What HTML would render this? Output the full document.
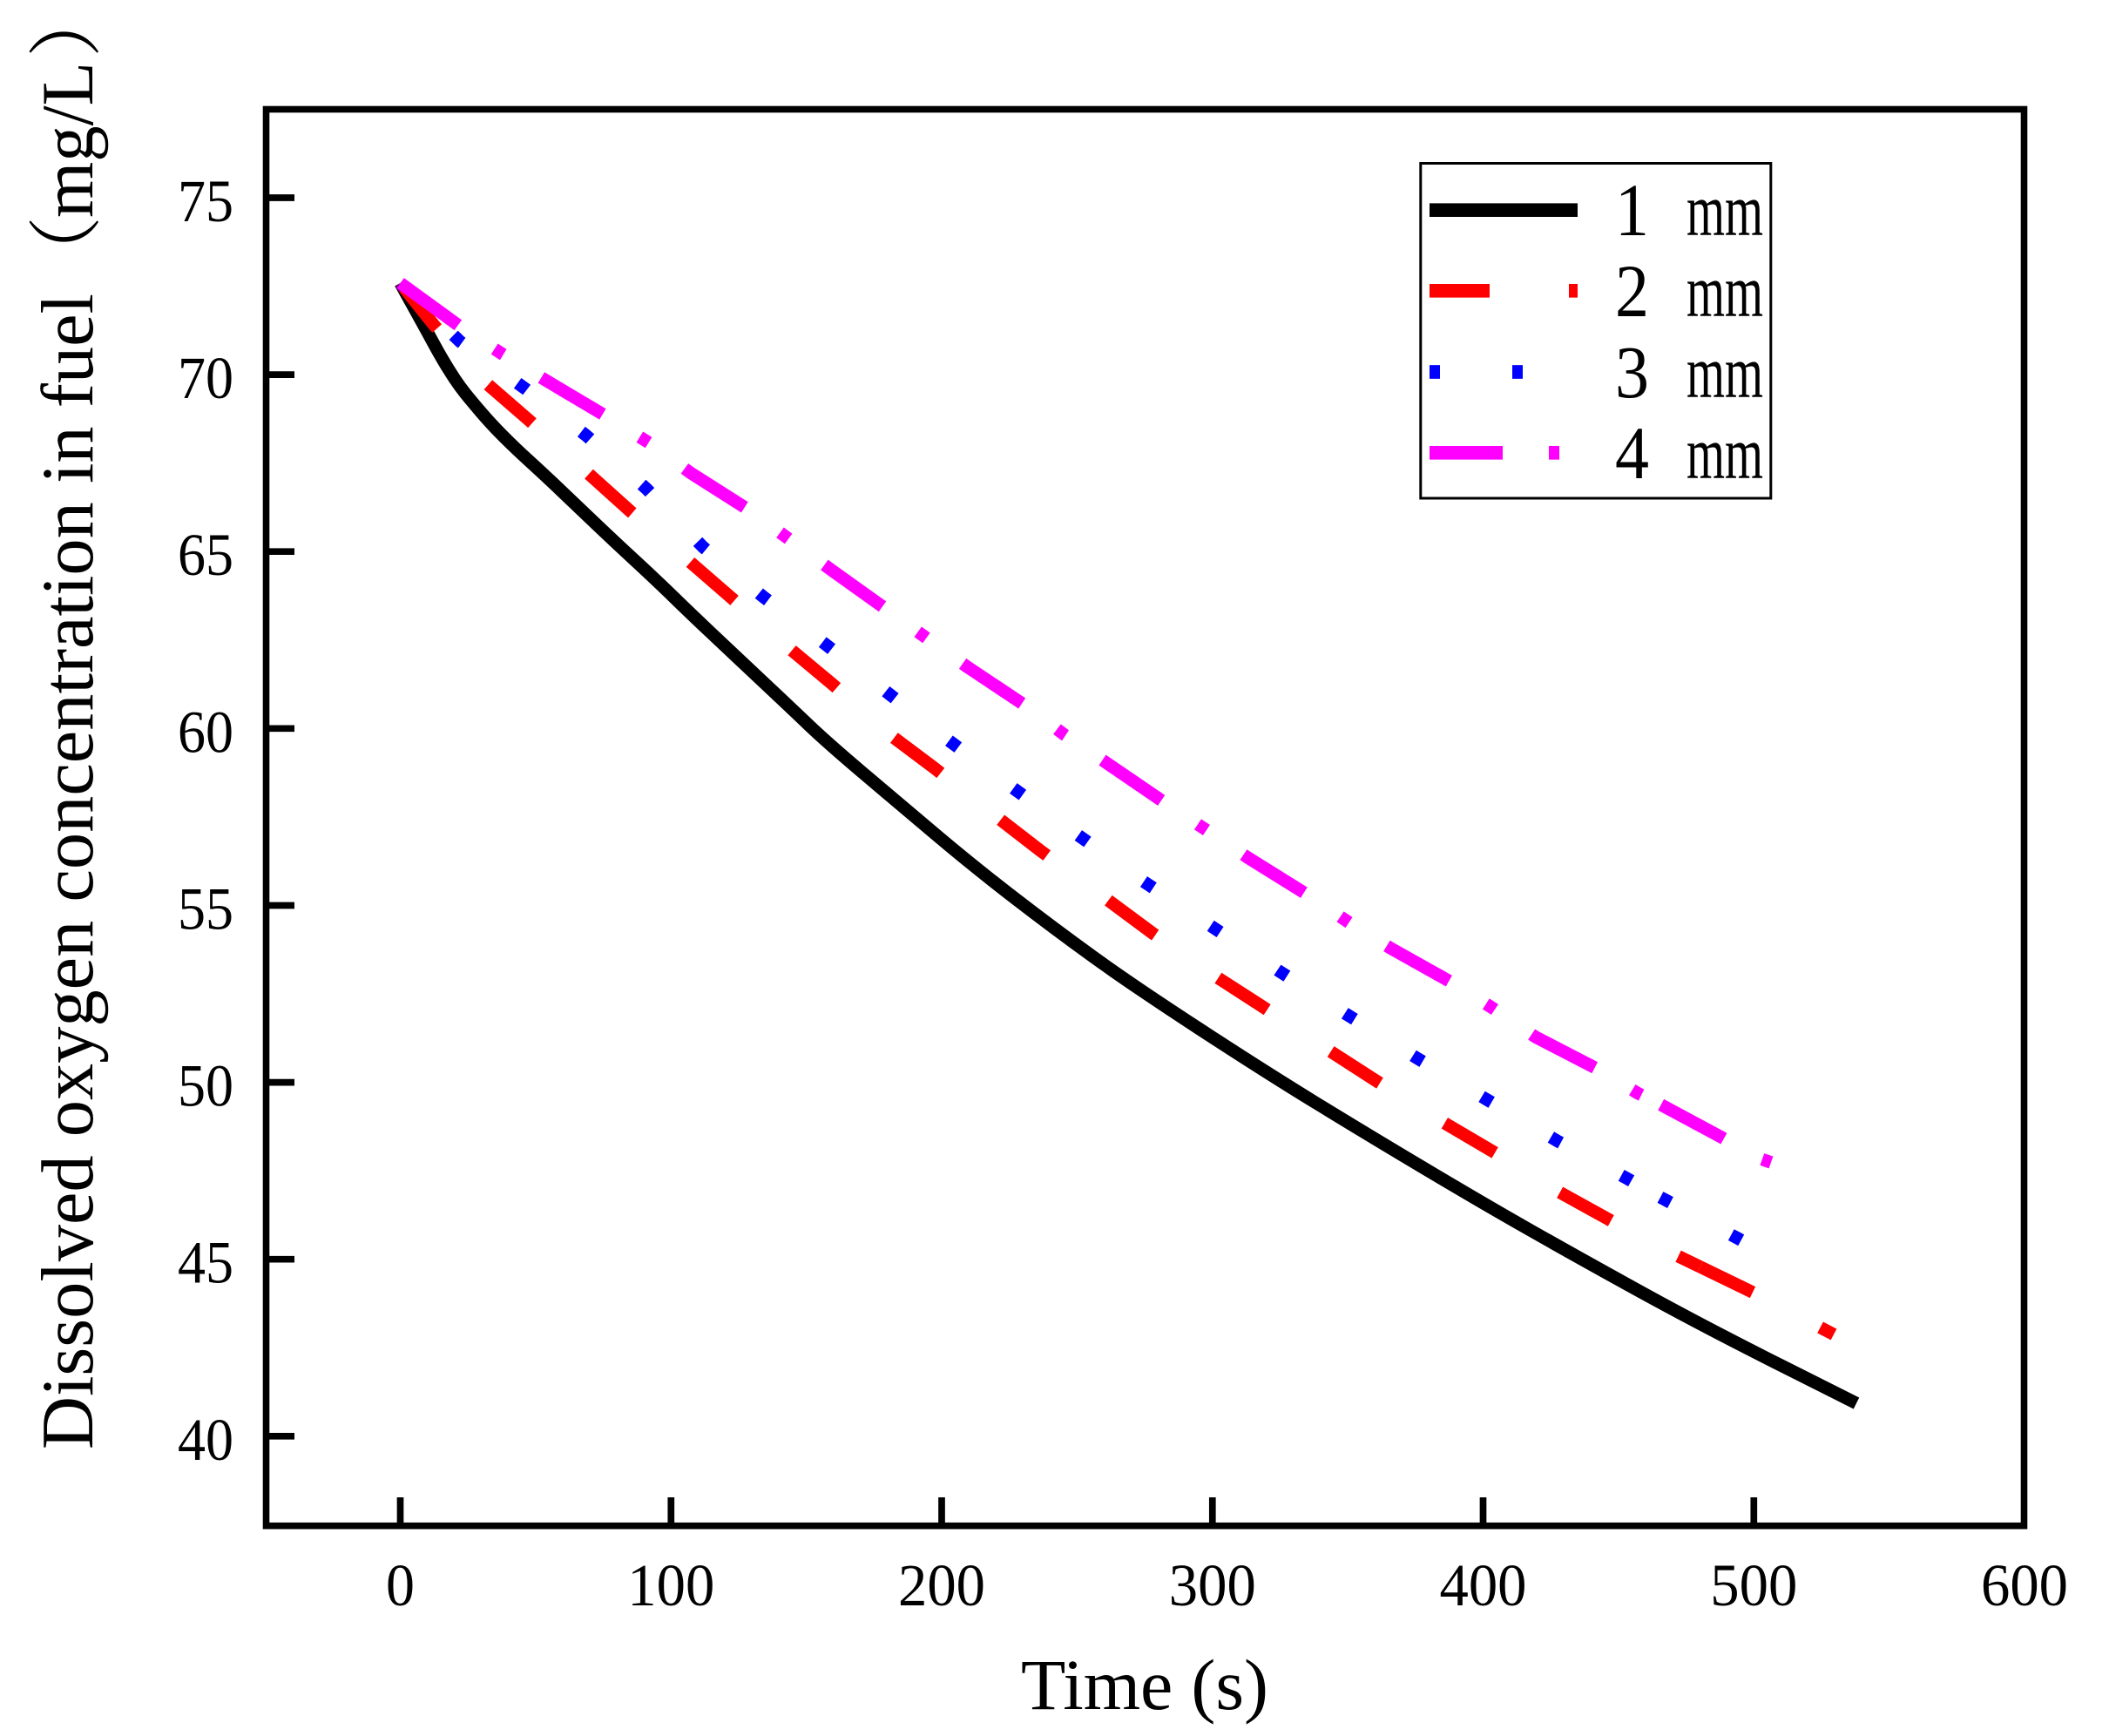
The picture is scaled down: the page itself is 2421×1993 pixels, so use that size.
<!DOCTYPE html>
<html><head><meta charset="utf-8"><style>
html,body{margin:0;padding:0;background:#fff;}
svg{display:block;}
text{font-family:"Liberation Serif","Noto Serif CJK SC",serif;fill:#000;}
</style></head><body>
<svg width="2421" height="1993" viewBox="0 0 2421 1993" xmlns="http://www.w3.org/2000/svg">
<rect x="0" y="0" width="2421" height="1993" fill="#fff"/>

<!-- series -->
<g fill="none" stroke-width="14.5" stroke-linejoin="round" stroke-linecap="butt">
<path stroke="#000" d="M459.5,325 L467.25,339 Q475,353 482.5,366.5 Q490,380 496.5,392 Q503,404 509.5,415 Q516,426 522,435 Q528,444 534,451.5 Q540,459 551.5,472.5 Q563,486 576.5,499.65 Q590,513.3 608.35,530 Q626.7,546.7 646.7,565.85 Q666.7,585 686.7,604 Q706.7,623 730,644.5 Q753.3,666 773.3,685.5 Q793.3,705 816.65,727 Q840,749 873.5,780.5 Q907,812 928.5,832.5 Q950,853 992.5,889 Q1035,925 1076.5,960 Q1118,995 1164,1030.5 Q1210,1066 1255,1098.5 Q1300,1131 1375,1180 Q1450,1229 1509.5,1265.5 Q1569,1302 1634.5,1341 Q1700,1380 1750,1408.5 Q1800,1437 1876,1479 Q1952,1521 2041.5,1566 L2131,1611"/>

<path stroke="#ff0000" stroke-dasharray="67 87.4" d="M459.5,325 L498.3,373.3 L558.3,440 L608.3,483.3 L673.3,541.7 L723.3,586.7 L790,643.3 L840,686.7 L905,743.3 L955,785 L1021.8,843.6 L1072,881.3 L1138.4,933.3 L1194,976.4 L1267.7,1030.2 L1323.3,1071.5 L1395.1,1120.7 L1450.8,1156.6 L1524.3,1205.1 L1580,1241 L1655.3,1287.6 L1716.4,1323.5 L1788,1367.5 L1844.5,1398.7 L1905,1431.7 L1951.7,1454.4"/>
<path stroke="#ff0000" stroke-dasharray="67 87.4" d="M1951.7,1454.4 L2018.3,1486.7 L2105,1532"/>

<path stroke="#0000ff" stroke-dasharray="13 79" stroke-dashoffset="6.5" d="M459.5,325 L528,392 L604,447 L673,500 L742,561 L807,628 L876,685 L948,740 L1016,793 L1085,847 L1155,899 L1235,957 L1312,1011.5 L1390,1063 L1467,1114 L1545,1164 L1627,1215 L1707,1262.5 L1788,1310 L1867,1352.5 L1906,1374.5"/>
<path stroke="#0000ff" stroke-dasharray="13 79" d="M1906,1374.5 L1995,1421.7 L2002,1425.5"/>

<path stroke="#ff00ff" stroke-dasharray="82 50 12 51" d="M459.5,325 L528.3,375 L576,406 L626.7,436.7 L696.7,478.3 L745,508.3 L793.3,543.3 L861.7,586.7 L907.3,620 L955.4,655.1 L1018.2,700 L1064.9,733.4 L1111.5,766.4 L1181.5,813 L1222,843.6 L1267.7,874.1 L1335.9,920.7 L1383.5,952 L1432.8,984.8 L1501.9,1027.9 L1549.5,1059.7 L1596.1,1088.4 L1669.7,1129.7 L1714.3,1157.9 L1762.3,1190.3 L1835.8,1228.3 L1880,1255 L1906.7,1268.3"/>
<path stroke="#ff00ff" stroke-dasharray="82 50 12 51" d="M1906.7,1268.3 L1975,1305 L2018.3,1329.3 L2033,1334.5"/>
</g>

<!-- frame -->
<rect x="305.5" y="125.5" width="2018" height="1626.2" fill="none" stroke="#000" stroke-width="7.6"/>

<!-- y ticks -->
<g stroke="#000" stroke-width="7.7">
<line x1="309" y1="227" x2="338" y2="227"/>
<line x1="309" y1="430.1" x2="338" y2="430.1"/>
<line x1="309" y1="633.2" x2="338" y2="633.2"/>
<line x1="309" y1="836.3" x2="338" y2="836.3"/>
<line x1="309" y1="1039.5" x2="338" y2="1039.5"/>
<line x1="309" y1="1242.6" x2="338" y2="1242.6"/>
<line x1="309" y1="1445.7" x2="338" y2="1445.7"/>
<line x1="309" y1="1648.8" x2="338" y2="1648.8"/>
</g>
<!-- x ticks -->
<g stroke="#000" stroke-width="7.7">
<line x1="459.5" y1="1748" x2="459.5" y2="1719"/>
<line x1="770.3" y1="1748" x2="770.3" y2="1719"/>
<line x1="1081" y1="1748" x2="1081" y2="1719"/>
<line x1="1391.8" y1="1748" x2="1391.8" y2="1719"/>
<line x1="1702.5" y1="1748" x2="1702.5" y2="1719"/>
<line x1="2013.3" y1="1748" x2="2013.3" y2="1719"/>
</g>

<!-- y tick labels -->
<g font-size="69" text-anchor="end">
<text x="268" y="254" textLength="64" lengthAdjust="spacingAndGlyphs">75</text>
<text x="268" y="457.1" textLength="64" lengthAdjust="spacingAndGlyphs">70</text>
<text x="268" y="660.2" textLength="64" lengthAdjust="spacingAndGlyphs">65</text>
<text x="268" y="863.3" textLength="64" lengthAdjust="spacingAndGlyphs">60</text>
<text x="268" y="1066.5" textLength="64" lengthAdjust="spacingAndGlyphs">55</text>
<text x="268" y="1269.6" textLength="64" lengthAdjust="spacingAndGlyphs">50</text>
<text x="268" y="1472.7" textLength="64" lengthAdjust="spacingAndGlyphs">45</text>
<text x="268" y="1675.8" textLength="64" lengthAdjust="spacingAndGlyphs">40</text>
</g>

<!-- x tick labels -->
<g font-size="69" text-anchor="middle">
<text x="459.5" y="1843" textLength="33" lengthAdjust="spacingAndGlyphs">0</text>
<text x="770.3" y="1843" textLength="100" lengthAdjust="spacingAndGlyphs">100</text>
<text x="1081" y="1843" textLength="100" lengthAdjust="spacingAndGlyphs">200</text>
<text x="1391.8" y="1843" textLength="100" lengthAdjust="spacingAndGlyphs">300</text>
<text x="1702.5" y="1843" textLength="100" lengthAdjust="spacingAndGlyphs">400</text>
<text x="2013.3" y="1843" textLength="100" lengthAdjust="spacingAndGlyphs">500</text>
<text x="2324" y="1843" textLength="100" lengthAdjust="spacingAndGlyphs">600</text>
</g>

<!-- axis titles -->
<text x="1172" y="1962" font-size="83" textLength="284" lengthAdjust="spacingAndGlyphs">Time (s)</text>

<g transform="translate(106,1663) rotate(-90)" font-size="85">
<text x="-1" y="0" textLength="1327" lengthAdjust="spacingAndGlyphs">Dissolved oxygen concentration in fuel</text>
<text x="1330" y="0">（</text>
<text x="1413" y="0" textLength="179" lengthAdjust="spacingAndGlyphs">mg/L</text>
<text x="1597" y="0">）</text>
</g>

<!-- legend -->
<rect x="1630.8" y="187.5" width="402" height="384.5" fill="#fff" stroke="#000" stroke-width="3"/>
<g stroke-width="15.7" fill="none">
<line x1="1641" y1="241.2" x2="1811" y2="241.2" stroke="#000"/>
<line x1="1641" y1="333.8" x2="1710" y2="333.8" stroke="#ff0000"/>
<line x1="1801" y1="333.8" x2="1811" y2="333.8" stroke="#ff0000"/>
<line x1="1641" y1="427" x2="1653" y2="427" stroke="#0000ff"/>
<line x1="1736" y1="427" x2="1748" y2="427" stroke="#0000ff"/>
<line x1="1641" y1="519.8" x2="1725" y2="519.8" stroke="#ff00ff"/>
<line x1="1778" y1="519.8" x2="1790" y2="519.8" stroke="#ff00ff"/>
</g>
<g font-size="86">
<text x="1854" y="270" textLength="39" lengthAdjust="spacingAndGlyphs">1</text>
<text x="1936" y="270" textLength="88" lengthAdjust="spacingAndGlyphs">mm</text>
<text x="1854" y="363" textLength="39" lengthAdjust="spacingAndGlyphs">2</text>
<text x="1936" y="363" textLength="88" lengthAdjust="spacingAndGlyphs">mm</text>
<text x="1854" y="456" textLength="39" lengthAdjust="spacingAndGlyphs">3</text>
<text x="1936" y="456" textLength="88" lengthAdjust="spacingAndGlyphs">mm</text>
<text x="1854" y="549" textLength="39" lengthAdjust="spacingAndGlyphs">4</text>
<text x="1936" y="549" textLength="88" lengthAdjust="spacingAndGlyphs">mm</text>
</g>
</svg>
</body></html>
